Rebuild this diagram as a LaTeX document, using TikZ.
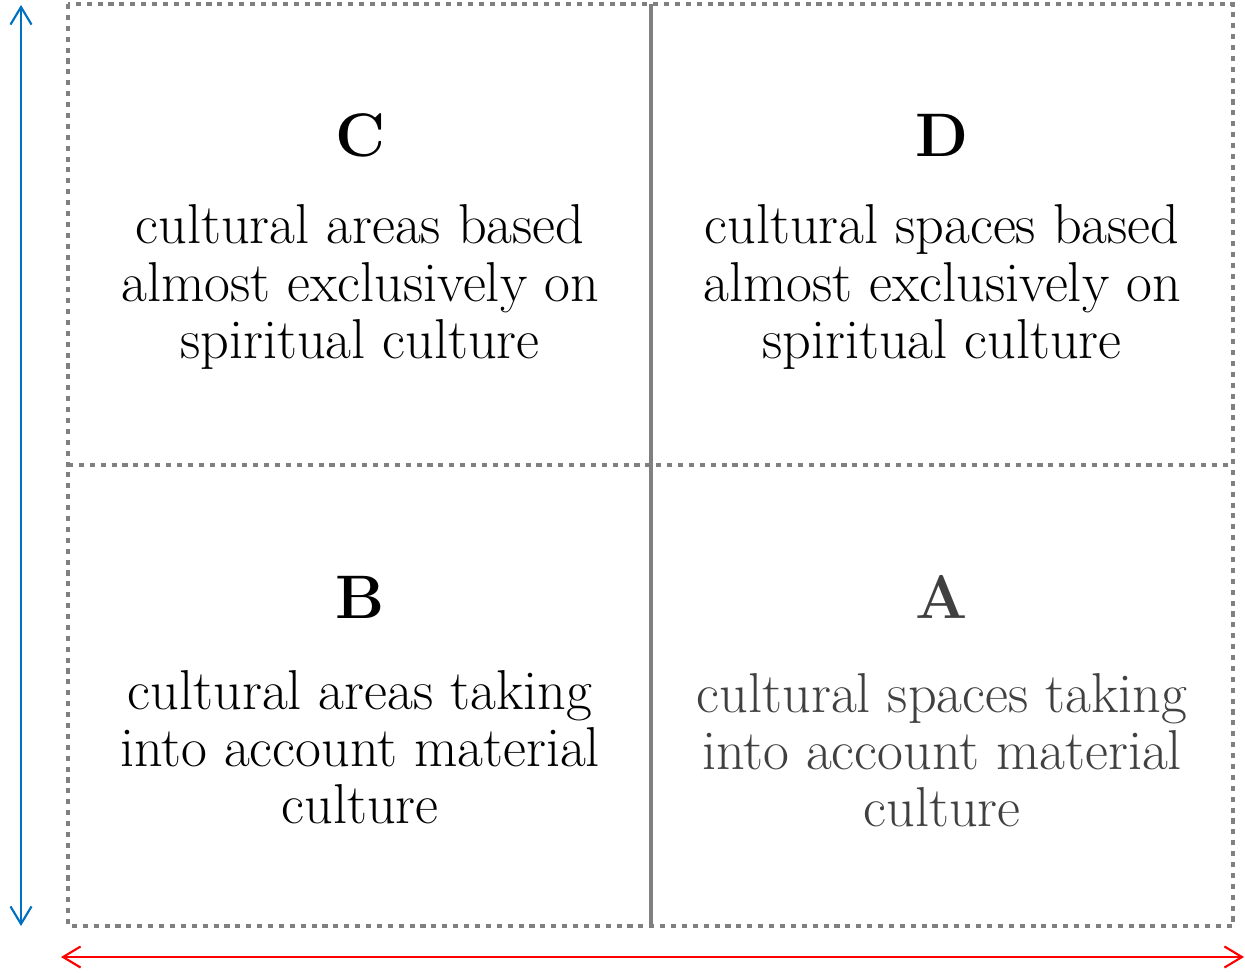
\documentclass[tikz,border=0pt]{standalone}
\usetikzlibrary{arrows.meta}
\definecolor{boxgray}{HTML}{808080}
\definecolor{txtgray}{HTML}{404040}
\definecolor{arrowblue}{HTML}{0070C0}
\definecolor{arrowred}{HTML}{FF0000}
\begin{document}
\begin{tikzpicture}[x=0.02cm,y=-0.02cm,
  dotline/.style={draw=boxgray,line width=2.7pt,dash pattern=on 2.9pt off 3.3pt},
  midline/.style={draw=boxgray,line width=2.5pt},
  head/.style={font=\bfseries\fontsize{35}{38}\selectfont,inner sep=0pt},
  body/.style={font=\fontsize{32}{32.5}\selectfont,align=center,inner sep=0pt},
  axis/.style={line width=1.2pt,{Straight Barb[length=10pt,width=12pt]}-{Straight Barb[length=10pt,width=12pt]}}]
\useasboundingbox (0,0) rectangle (1245,973);
% grid
\coordinate (tl) at (68,4);
\coordinate (br) at (1233,926);
\draw[dotline] (tl) rectangle (br);
\coordinate (ml) at (68,465);
\coordinate (mr) at (1233,465);
\draw[dotline] (ml) -- (mr);
\coordinate (mt) at (651,4);
\coordinate (mb) at (651,926);
\draw[midline] (mt) -- (mb);
% quadrant C
\node[head] (hC) at (360,135) {C};
\node[body] (tC) at (360,287) {cultural areas based\\almost exclusively on\\spiritual culture};
% quadrant D
\node[head] (hD) at (942,135) {D};
\node[body] (tD) at (942,287) {cultural spaces based\\almost exclusively on\\spiritual culture};
% quadrant B
\node[head] (hB) at (360,597) {B};
\node[body] (tB) at (360,747) {cultural areas taking\\into account material\\culture};
% quadrant A
\node[head,text=txtgray] (hA) at (942,597) {A};
\node[body,text=txtgray] (tA) at (942,750) {cultural spaces taking\\into account material\\culture};
% axes
\coordinate (vt) at (21,5);
\coordinate (vb) at (21,926);
\draw[axis,draw=arrowblue] (vt) -- (vb);
\coordinate (hl) at (61,957);
\coordinate (hr) at (1244,957);
\draw[axis,draw=arrowred] (hl) -- (hr);
\end{tikzpicture}
\end{document}
